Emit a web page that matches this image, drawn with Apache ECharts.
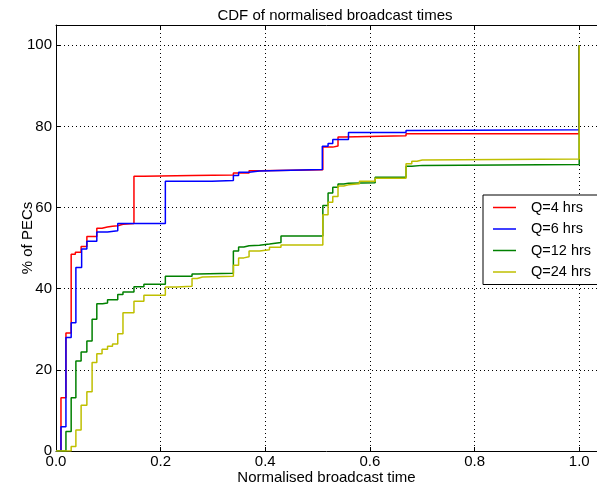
<!DOCTYPE html>
<html>
<head>
<meta charset="utf-8">
<script src="https://cdn.jsdelivr.net/npm/echarts@6/dist/echarts.min.js"></script>
<style>
  html, body { margin: 0; padding: 0; background: #fff; }
  #chart { width: 597px; height: 485px; }
</style>
</head>
<body>
<div id="chart"></div>
<script>
// step CDF points: [normalised time, % of PECs]
var q4 = [[0,0],[0.0095,13.1],[0.019,29.1],[0.029,48.5],[0.037,49.0],[0.048,50.4],[0.059,52.9],[0.078,54.9],[0.088,55.2],[0.098,55.4],[0.108,55.5],[0.118,55.9],[0.128,56.1],[0.149,67.7],[0.168,67.9],[0.26,68.0],[0.339,68.5],[0.369,69.1],[0.39,69.3],[0.51,74.9],[0.529,75.2],[0.539,77.4],[0.55,77.7],[0.669,78.2],[1,100]];
var q6 = [[0,0],[0.0095,6.0],[0.019,28.0],[0.029,31.6],[0.038,45.2],[0.049,49.8],[0.059,51.7],[0.078,54.0],[0.0985,54.3],[0.118,56.1],[0.209,66.5],[0.298,66.7],[0.339,67.9],[0.349,68.7],[0.369,69.0],[0.389,69.4],[0.509,75.1],[0.52,75.8],[0.529,76.8],[0.559,78.5],[0.669,79.0],[0.68,79.2],[1,100]];
var q12 = [[0,0],[0.019,4.8],[0.029,13.1],[0.038,22.2],[0.048,24.4],[0.059,27.1],[0.069,32.5],[0.078,36.3],[0.089,36.5],[0.0985,37.3],[0.118,38.6],[0.128,39.2],[0.149,40.5],[0.168,41.1],[0.209,43.1],[0.26,43.6],[0.27,43.8],[0.339,49.3],[0.349,50.3],[0.359,50.6],[0.369,50.7],[0.389,51.0],[0.408,51.4],[0.43,53.0],[0.51,60.5],[0.52,63.6],[0.529,65.0],[0.539,65.8],[0.55,66.0],[0.559,66.1],[0.61,67.5],[0.669,70.2],[0.68,70.4],[0.70,70.6],[1,100]];
var q24 = [[0,0],[0.029,1.1],[0.038,5.2],[0.048,11.3],[0.059,14.6],[0.069,21.8],[0.078,24.0],[0.088,25.1],[0.0985,25.8],[0.108,26.4],[0.118,28.9],[0.128,34.1],[0.149,36.9],[0.168,38.4],[0.209,40.4],[0.23,40.6],[0.26,42.5],[0.27,42.9],[0.28,43.1],[0.339,45.8],[0.349,47.6],[0.359,47.9],[0.369,49.3],[0.389,49.6],[0.408,50.2],[0.43,50.8],[0.51,58.2],[0.52,61.3],[0.529,62.7],[0.539,65.3],[0.55,65.6],[0.559,65.9],[0.58,66.5],[0.61,67.2],[0.669,70.8],[0.68,71.4],[0.69,71.7],[0.70,72.0],[1,100]];

var seriesNames = ['Q=4 hrs', 'Q=6 hrs', 'Q=12 hrs', 'Q=24 hrs'];
var seriesData = [q4, q6, q12, q24];
var colors = ['#ff0000', '#0000ff', '#008000', '#bfbf00'];
var xTicks = ['0.0', '0.2', '0.4', '0.6', '0.8', '1.0'];
var yTicks = [0, 20, 40, 60, 80, 100];

var font = 'Liberation Sans';
var chart = echarts.init(document.getElementById('chart'));

var series = seriesNames.map(function (n, i) {
    return {
        name: n,
        type: 'line',
        step: 'end',
        symbol: 'none',
        data: seriesData[i],
        lineStyle: { color: colors[i], width: 1.5 },
        itemStyle: { color: colors[i] }
    };
});

// the figure is cropped on the right: x=1.0 sits 18px from the edge
var xMax = 1.034;

chart.setOption({
    animation: false,
    color: colors,
    title: {
        text: 'CDF of normalised broadcast times',
        left: 330, top: 3, textAlign: 'center',
        textStyle: { fontFamily: font, fontSize: 15, fontWeight: 'normal', color: '#000' }
    },
    grid: {
        left: 56, right: 0, top: 25, bottom: 34,
        outerBoundsMode: 'none',
        show: false
    },
    legend: {
        orient: 'vertical',
        left: 483, top: 195,
        data: seriesNames,
        icon: 'path://M0,0h23v1.5h-23z',
        itemWidth: 23, itemHeight: 14, itemGap: 6.5,
        padding: [5, 30, 5, 10],
        backgroundColor: '#fff',
        borderColor: '#000', borderWidth: 1,
        textStyle: { fontFamily: font, fontSize: 14.5, color: '#000', padding: [0, 0, 0, 10] }
    },
    xAxis: [{
        type: 'value', min: 0, max: xMax, interval: 0.2,
        name: 'Normalised broadcast time', nameLocation: 'middle', nameGap: 19,
        nameMoveOverlap: false,
        nameTextStyle: { fontFamily: font, fontSize: 15, color: '#000' },
        axisLine: { lineStyle: { color: '#000' } },
        axisTick: { inside: true, length: 4, lineStyle: { color: '#000' } },
        axisLabel: {
            fontFamily: font, fontSize: 15, color: '#000', margin: 3,
            showMaxLabel: false,
            formatter: function (v) { var s = v.toFixed(1); return xTicks.indexOf(s) >= 0 && Math.abs(v - parseFloat(s)) < 1e-6 ? s : ''; }
        },
        splitLine: { show: true, lineStyle: { color: '#000', type: [1, 3], width: 1 } }
    }, {
        type: 'value', min: 0, max: xMax, interval: 0.2, position: 'top',
        axisLine: { show: true, lineStyle: { color: '#000' } },
        axisTick: { show: true, inside: true, length: 4, lineStyle: { color: '#000' } },
        axisLabel: { show: false },
        splitLine: { show: false }
    }],
    yAxis: {
        type: 'value', min: 0, max: 105, interval: 20,
        name: '% of PECs', nameLocation: 'middle', nameGap: 21,
        nameMoveOverlap: false,
        nameTextStyle: { fontFamily: font, fontSize: 15, color: '#000' },
        axisLine: { show: true, lineStyle: { color: '#000' } },
        axisTick: { show: true, inside: true, length: 4, lineStyle: { color: '#000' } },
        axisLabel: {
            fontFamily: font, fontSize: 15, color: '#000', margin: 4,
            showMaxLabel: false,
            formatter: function (v) { return yTicks.indexOf(v) >= 0 ? String(v) : ''; }
        },
        splitLine: { show: true, lineStyle: { color: '#000', type: [1, 3], width: 1 } }
    },
    series: series
});
</script>
</body>
</html>
